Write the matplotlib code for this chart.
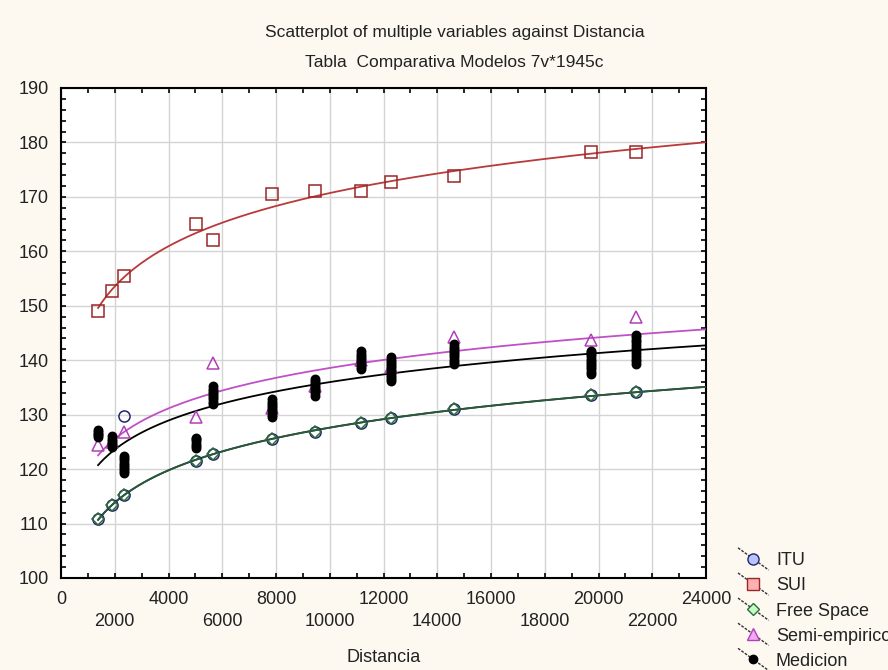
import numpy as np
import matplotlib
matplotlib.use("Agg")
import matplotlib.pyplot as plt
from matplotlib.lines import Line2D
from matplotlib.legend_handler import HandlerBase
from matplotlib.ticker import MultipleLocator

plt.rcParams["font.family"] = ["Liberation Sans", "DejaVu Sans"]

# distance of each measurement site (m)
dist = [1380, 1900, 2350, 5020, 5640, 7840, 9450, 11150, 12270, 14620, 19710, 21380]

# path loss per model (dB)
free_space = [110.9, 113.4, 115.2, 121.5, 122.8, 125.5, 126.9, 128.5, 129.3, 131.0, 133.6, 134.2]
itu = free_space
itu_extra_dist = [2350]
itu_extra = [129.7]
sui = [149.1, 152.8, 155.5, 165.0, 162.1, 170.5, 171.1, 171.1, 172.7, 173.9, 178.3, 178.2]
semi = [124.4, 125.0, 126.9, 129.5, 139.4, 131.2, 135.3, 140.0, 138.8, 144.2, 143.7, 147.9]

# measured samples at each site
medicion_groups = [
    [125.9, 126.2, 126.5, 126.8, 127.1],
    [124.0, 124.4, 124.8, 125.2, 125.6, 126.1],
    [119.2, 119.6, 120.0, 120.4, 120.8, 121.2, 121.6, 122.0, 122.4],
    [123.9, 124.3, 124.7, 125.1, 125.5, 125.8],
    [132.0, 132.4, 132.8, 133.2, 133.6, 134.0, 134.4, 134.8, 135.3],
    [129.6, 130.0, 130.4, 130.8, 131.2, 131.6, 132.0, 132.4, 132.8],
    [133.5, 133.9, 134.3, 134.7, 135.1, 135.5, 135.9, 136.2, 136.5],
    [138.4, 138.8, 139.2, 139.6, 140.0, 140.4, 140.8, 141.2, 141.7],
    [136.1, 136.5, 136.9, 137.3, 137.7, 138.1, 138.5, 138.9, 139.3, 139.7, 140.1, 140.5],
    [139.3, 139.7, 140.1, 140.5, 140.9, 141.3, 141.7, 142.1, 142.5, 142.9],
    [137.5, 137.9, 138.3, 138.7, 139.1, 139.5, 139.9, 140.3, 140.7, 141.1, 141.5, 141.7],
    [139.3, 139.8, 140.3, 140.8, 141.3, 141.8, 142.3, 142.8, 143.3, 143.8, 144.3, 144.7],
]
med_dist = np.repeat(dist, [len(g) for g in medicion_groups])
medicion = np.concatenate(medicion_groups)

BG = "#fdf9f1"
TXT = "#222222"

fig = plt.figure(figsize=(8.88, 6.70), dpi=100, facecolor=BG)
ax = fig.add_axes([61 / 888, 1 - 578 / 670, (706 - 61) / 888, (578 - 88) / 670])
ax.set_facecolor("white")

# label, x, y, marker, edge colour, legend fill, curve colour, marker size
series = [
    ("ITU", dist, itu, "o", "#23236e", "#b8c4ff", "#1d2a5c", 8),
    ("SUI", dist, sui, "s", "#9a2626", "#ffb0b0", "#b83a3a", 8),
    ("Free Space", dist, free_space, "D", "#2d6a3c", "#c2ffc2", "#2a5a33", 6.5),
    ("Semi-empirico", dist, semi, "^", "#b040b8", "#f4a8f4", "#c050c8", 8),
    ("Medicion", med_dist, medicion, "o", "black", "black", "black", 6),
]

handles = []
for label, x, y, mk, edge, face, lcol, ms in series:
    x = np.asarray(x, dtype=float)
    y = np.asarray(y, dtype=float)
    # logarithmic fit  y = a + b ln(x)
    b, a = np.polyfit(np.log(x), y, 1)
    xs = np.linspace(x.min(), 24000, 400)
    ax.plot(xs, a + b * np.log(xs), color=lcol, lw=1.3, zorder=3)
    filled = label == "Medicion"
    ax.plot(x, y, ls="none", marker=mk, ms=ms, mew=1.1, mec=edge,
            mfc=edge if filled else "none", zorder=4)
    if label == "ITU":
        ax.plot(itu_extra_dist, itu_extra, ls="none", marker=mk, ms=ms, mew=1.1,
                mec=edge, mfc="none", zorder=4)
    handles.append(Line2D([], [], marker=mk, ms=ms, mec=edge, mfc=face, mew=1.0,
                          label=label))

ax.set_xlim(0, 24000)
ax.set_ylim(100, 190)
ax.xaxis.set_minor_locator(MultipleLocator(1000))
ax.yaxis.set_major_locator(MultipleLocator(10))
ax.yaxis.set_minor_locator(MultipleLocator(2))
ticks = np.arange(0, 24001, 2000)
ax.set_xticks(ticks)
ax.set_xticklabels([f"{t}" if i % 2 == 0 else f"\n{t}" for i, t in enumerate(ticks)])
for t in ax.get_xticklabels():
    t.set_linespacing(1.4)
ax.grid(True, which="major", color="#d4d4d4", lw=1.0)
ax.set_axisbelow(True)
ax.tick_params(which="both", direction="in", top=True, right=True, length=3.5,
               width=1.2, labelsize=13, colors="black", labelcolor=TXT)
ax.tick_params(axis="y", pad=9)
ax.tick_params(axis="x", pad=9)
for sp in ax.spines.values():
    sp.set_linewidth(1.5)
ax.set_xlabel("Distancia", fontsize=13, color=TXT, labelpad=14)

fig.text(0.512, 1 - 33 / 670, "Scatterplot of multiple variables against Distancia",
         ha="center", va="center", fontsize=12.5, color=TXT)
fig.text(0.512, 1 - 62 / 670, "Tabla  Comparativa Modelos 7v*1945c",
         ha="center", va="center", fontsize=12.5, color=TXT)


class SlantHandler(HandlerBase):
    def create_artists(self, legend, orig_handle, xdescent, ydescent, width,
                       height, fontsize, trans):
        x0, x1 = -xdescent, width - xdescent
        ym = height / 2 - ydescent
        seg = Line2D([x0, x1], [ym + 8, ym - 8], color="#333333", lw=1.0,
                     ls=(0, (2, 1)))
        dot = Line2D([(x0 + x1) / 2], [ym], ls="none",
                     marker=orig_handle.get_marker(),
                     ms=orig_handle.get_markersize(),
                     mec=orig_handle.get_markeredgecolor(),
                     mfc=orig_handle.get_markerfacecolor(), mew=1.0)
        seg.set_transform(trans)
        dot.set_transform(trans)
        return [seg, dot]


fig.legend(handles=handles, loc="center left", bbox_to_anchor=(738 / 888, 1 - 611 / 670),
           frameon=False, fontsize=13, handlelength=1.7, handletextpad=0.4,
           labelspacing=0.45, borderpad=0, borderaxespad=0,
           handler_map={Line2D: SlantHandler()}, labelcolor=TXT)

fig.savefig("out.png", dpi=100, facecolor=BG)
